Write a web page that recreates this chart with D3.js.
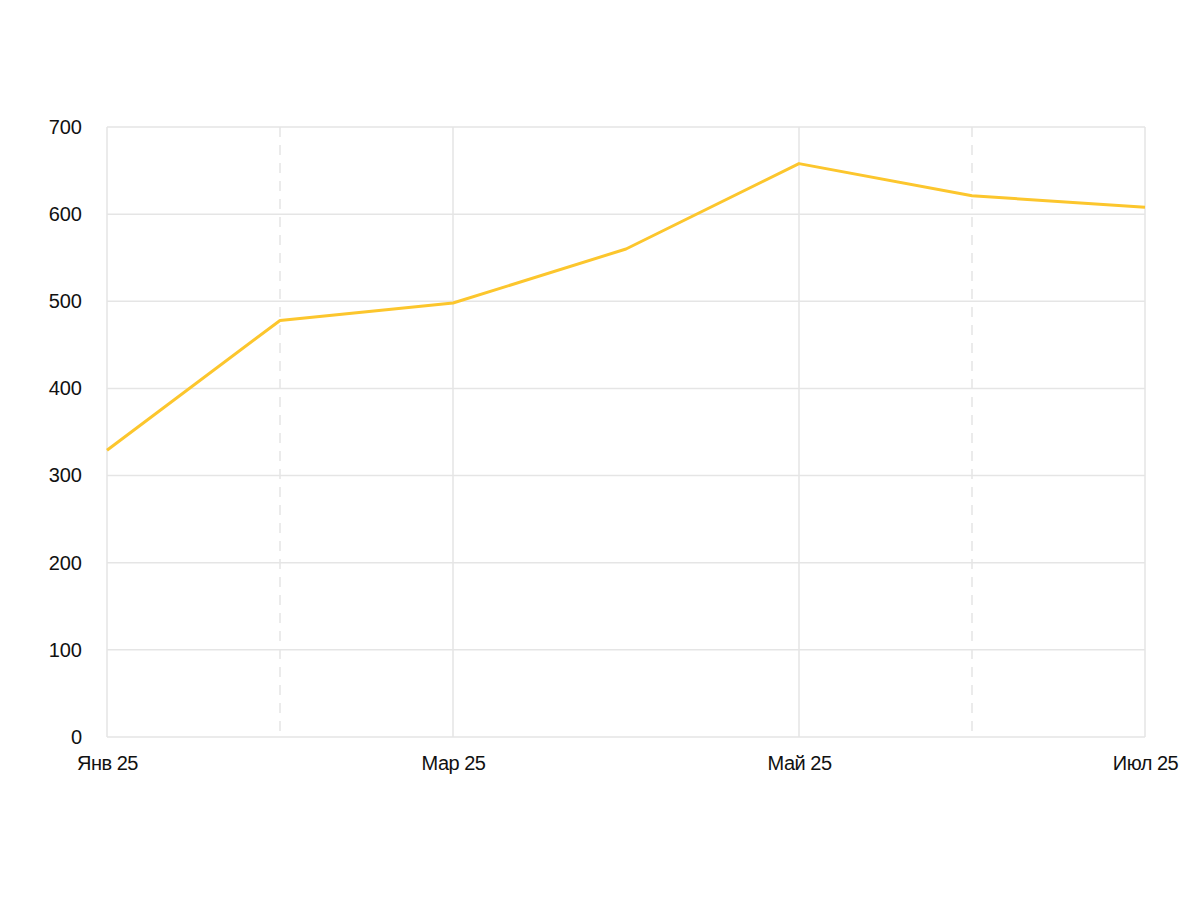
<!DOCTYPE html>
<html>
<head>
<meta charset="utf-8">
<script src="https://cdn.jsdelivr.net/npm/d3@7"></script>
<style>
  body { margin: 0; background: #fff; }
</style>
</head>
<body>
<div id="chart"></div>
<script>
var months = ["Янв 25", "Фев 25", "Мар 25", "Апр 25", "Май 25", "Июн 25", "Июл 25"];
var values = [329, 478, 498, 560, 658, 621, 608];
var yTicks = [0, 100, 200, 300, 400, 500, 600, 700];
var labelMonths = ["Янв 25", "Мар 25", "Май 25", "Июл 25"];
var solidMonths = ["Янв 25", "Мар 25", "Май 25", "Июл 25"];
var dashedMonths = ["Фев 25", "Июн 25"];

(function() {
    var width = 1200, height = 900;
    var margin = { top: 127, right: 55, bottom: 163, left: 107 };

    var svg = d3.select("#chart")
        .append("svg")
        .attr("width", width)
        .attr("height", height);

    var g = svg.append("g")
        .attr("transform", "translate(" + margin.left + "," + margin.top + ")");

    var w = width - margin.left - margin.right,
        h = height - margin.top - margin.bottom;

    var x = d3.scalePoint().domain(months).range([0, w]);
    var y = d3.scaleLinear().domain([0, 700]).range([h, 0]);

    // horizontal grid
    g.selectAll(".hgrid")
        .data(yTicks)
        .enter().append("line")
        .attr("class", "hgrid")
        .attr("x1", 0)
        .attr("x2", w)
        .attr("y1", d => y(d))
        .attr("y2", d => y(d))
        .attr("stroke", "#e5e5e5")
        .attr("stroke-width", 1.5);

    // vertical grid
    g.selectAll(".vgrid")
        .data(solidMonths)
        .enter().append("line")
        .attr("class", "vgrid")
        .attr("x1", d => x(d))
        .attr("x2", d => x(d))
        .attr("y1", 0)
        .attr("y2", h)
        .attr("stroke", "#e5e5e5")
        .attr("stroke-width", 1.5);

    g.selectAll(".vdash")
        .data(dashedMonths)
        .enter().append("line")
        .attr("class", "vdash")
        .attr("x1", d => x(d))
        .attr("x2", d => x(d))
        .attr("y1", 0)
        .attr("y2", h)
        .attr("stroke", "#e5e5e5")
        .attr("stroke-width", 1.5)
        .attr("stroke-dasharray", "10,8");

    // y axis labels
    var yAxis = g.append("g")
        .call(d3.axisLeft(y).tickValues(yTicks).tickSize(0).tickPadding(25));
    yAxis.select(".domain").remove();
    yAxis.selectAll("text")
        .attr("font-family", "Liberation Sans, Arial, sans-serif")
        .attr("font-size", "20px")
        .attr("fill", "#111");

    // x axis labels
    var xAxis = g.append("g")
        .attr("transform", "translate(0," + h + ")")
        .call(d3.axisBottom(x).tickValues(labelMonths).tickSize(0).tickPadding(19));
    xAxis.select(".domain").remove();
    xAxis.selectAll("text")
        .attr("font-family", "Liberation Sans, Arial, sans-serif")
        .attr("font-size", "20px")
        .attr("letter-spacing", "-0.5px")
        .attr("fill", "#111");

    var line = d3.line()
        .x((d, i) => x(months[i]))
        .y(d => y(d));

    g.append("path")
        .datum(values)
        .attr("d", line)
        .attr("fill", "none")
        .attr("stroke", "#fcc62d")
        .attr("stroke-width", 3)
        .attr("stroke-linejoin", "round");
})();
</script>
</body>
</html>
